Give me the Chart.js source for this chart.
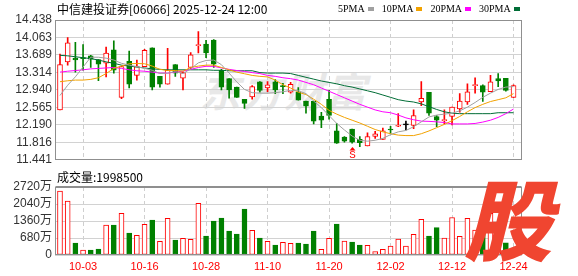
<!DOCTYPE html>
<html>
<head>
<meta charset="utf-8">
<script src="https://cdn.jsdelivr.net/npm/chart.js@4.4.1/dist/chart.umd.min.js"></script>
<style>
  html,body{margin:0;padding:0;background:#fff;}
  body{width:578px;height:276px;overflow:hidden;position:relative;font-family:"Noto Sans CJK SC","Liberation Sans",sans-serif;}
  .abs{position:absolute;white-space:nowrap;}
  #title{left:57px;top:1px;font-size:12px;line-height:15px;color:#000;}
  #legend{left:338px;top:2px;font-family:"Liberation Serif",serif;font-size:10px;line-height:13px;color:#000;}
  #legend span.sw{display:inline-block;width:6px;height:4px;margin:0 8px 0 3px;vertical-align:middle;position:relative;top:-1px;}
  #volTitle{left:57px;top:169px;font-size:12px;line-height:15px;color:#000;}
  #wm{left:200px;top:66px;font-size:40px;line-height:48px;font-weight:bold;font-style:italic;color:#e8e8e8;letter-spacing:2px;}
  #logo{left:464px;top:166px;font-size:88px;line-height:100px;font-weight:900;font-style:italic;color:#f04530;}
  canvas{position:absolute;left:0;}
</style>
</head>
<body>
<div id="wm" class="abs">东方财富</div>
<canvas id="k" width="578" height="170" style="top:0"></canvas>
<canvas id="v" width="578" height="106" style="top:170px"></canvas>
<div id="title" class="abs">中信建投证券[06066] 2025-12-24 12:00</div>
<div id="legend" class="abs"></div>
<div id="volTitle" class="abs"></div>
<div id="logo" class="abs">股</div>
<script>
// ---------- data ----------
const dates = ['09-29','09-30','10-02','10-03','10-06','10-08','10-09','10-10','10-13','10-14',
  '10-15','10-16','10-17','10-20','10-21','10-22','10-23','10-24','10-27','10-28',
  '10-30','10-31','11-03','11-04','11-05','11-06','11-07','11-10','11-11','11-12',
  '11-13','11-14','11-17','11-18','11-19','11-20','11-21','11-24','11-25','11-26',
  '11-27','11-28','12-01','12-02','12-03','12-04','12-05','12-08','12-09','12-10',
  '12-11','12-12','12-15','12-16','12-17','12-18','12-19','12-22','12-23','12-24'];
const openP = [12.51,13.54,13.62,13.63,13.67,13.59,13.51,13.80,12.78,13.55,
  13.25,13.44,13.84,13.23,13.06,13.48,13.19,13.42,13.89,13.92,
  14.01,13.36,13.18,13.00,12.74,12.79,13.11,12.98,13.11,13.03,
  12.89,12.89,12.70,12.70,12.38,12.74,12.06,11.93,12.10,11.88,
  11.74,11.94,11.88,12.10,12.16,12.19,12.18,12.68,12.89,12.37,
  12.28,12.37,12.53,12.68,13.03,13.03,12.90,13.18,13.19,12.78];
const highP = [13.71,14.06,13.96,13.91,13.68,13.59,13.86,13.99,13.45,13.77,
  13.58,13.81,13.84,13.23,13.83,13.48,13.32,13.74,14.19,14.00,
  14.02,13.38,13.18,13.00,12.74,13.03,13.12,13.12,13.16,13.08,
  13.10,12.99,12.70,12.70,12.46,12.93,12.22,11.94,12.10,11.94,
  12.02,12.05,12.12,12.16,12.43,12.27,12.51,13.12,12.89,12.39,
  12.51,12.57,12.86,13.07,13.20,13.05,13.25,13.29,13.19,13.05];
const lowP = [12.51,13.47,13.32,13.36,13.42,13.14,13.22,13.30,12.75,12.98,
  13.15,13.44,12.94,13.00,13.06,13.23,12.94,13.39,13.73,13.63,
  13.42,12.94,12.76,12.78,12.54,12.74,12.89,12.90,12.86,12.86,
  12.87,12.72,12.44,12.21,12.13,12.31,11.79,11.82,11.80,11.72,
  11.74,11.90,11.88,12.01,12.15,12.08,12.11,12.60,12.39,12.15,
  12.21,12.19,12.46,12.63,12.87,12.69,12.90,13.01,12.91,12.78];
const closeP = [13.48,13.95,13.58,13.61,13.60,13.49,13.73,13.36,13.44,13.06,
  13.44,13.79,13.00,13.06,13.36,13.30,13.31,13.69,13.91,13.73,
  13.49,13.00,12.94,12.78,12.65,13.01,12.93,13.05,12.94,13.01,
  13.06,12.72,12.59,12.27,12.29,12.39,11.80,11.84,11.82,11.81,
  11.94,12.00,12.06,12.08,12.18,12.19,12.39,12.76,12.44,12.29,
  12.30,12.57,12.70,12.90,13.05,12.89,13.11,13.13,12.93,13.03];
const volume = [2560,2160,480,200,200,240,1200,1200,1667,880,
  787,1227,1400,547,1467,600,667,627,2067,760,
  1360,1480,960,840,1840,987,680,547,400,507,
  467,480,440,960,227,667,1240,560,520,400,
  387,133,227,360,640,360,827,1427,760,1093,
  680,1500,747,1467,1000,933,1667,800,487,199.85];
const ma5 = [12.82,13.04,13.22,13.43,13.64,13.64,13.62,13.58,13.51,13.47,
  13.44,13.40,13.36,13.29,13.30,13.33,13.29,13.39,13.52,13.57,
  13.58,13.48,13.30,13.11,12.95,12.88,12.87,12.87,12.88,12.90,
  12.93,12.92,12.86,12.70,12.56,12.39,12.22,12.08,11.95,11.86,
  11.84,11.86,11.90,11.98,12.04,12.07,12.15,12.255,12.36,12.40,
  12.42,12.44,12.49,12.57,12.67,12.78,12.87,12.95,13.00,13.01];
const ma10 = [13.115,13.135,13.15,13.15,13.165,13.20,13.29,13.40,13.45,13.50,
  13.506,13.50,13.45,13.38,13.355,13.355,13.34,13.42,13.45,13.47,
  13.47,13.42,13.37,13.32,13.286,13.25,13.23,13.218,13.15,13.05,
  12.98,12.89,12.84,12.74,12.63,12.50,12.42,12.35,12.29,12.23,
  12.16,12.09,12.04,12.00,11.97,11.96,11.96,12.00,12.06,12.13,
  12.20,12.28,12.37,12.47,12.56,12.63,12.69,12.73,12.77,12.86];
const ma20 = [13.32,13.34,13.355,13.37,13.39,13.40,13.41,13.42,13.40,13.37,
  13.35,13.34,13.32,13.30,13.30,13.32,13.34,13.38,13.42,13.445,
  13.445,13.41,13.38,13.355,13.335,13.31,13.29,13.25,13.23,13.20,
  13.18,13.15,13.10,13.05,12.98,12.91,12.84,12.77,12.70,12.63,
  12.57,12.51,12.47,12.45,12.40,12.34,12.30,12.27,12.265,12.255,
  12.24,12.21,12.21,12.21,12.22,12.25,12.29,12.35,12.43,12.53];
const ma30 = [13.68,13.67,13.65,13.63,13.61,13.58,13.54,13.51,13.47,13.45,
  13.43,13.41,13.39,13.38,13.37,13.37,13.37,13.37,13.37,13.37,
  13.36,13.36,13.35,13.35,13.35,13.35,13.31,13.30,13.30,13.30,
  13.29,13.25,13.21,13.17,13.13,13.10,13.07,13.03,13.00,12.96,
  12.92,12.88,12.83,12.78,12.73,12.70,12.68,12.64,12.58,12.52,
  12.47,12.44,12.43,12.43,12.43,12.43,12.43,12.45,12.45,12.45];
const priceTicks = [11.441,11.816,12.190,12.565,12.940,13.314,13.689,14.063,14.438];
const volTicks = [0,680,1360,2040,2720];
const dateTicks = ['10-03','10-16','10-28','11-10','11-20','12-02','12-12','12-24'];
const sellMarks = ['11-25'];
const maNames = ['5PMA','10PMA','20PMA','30PMA'];
const lastVolume = 1998500;

// ---------- styles ----------
const RED = '#ff0000', GREEN = '#008000', BLACK = '#000000';
const maColors = ['#a0a0a0','#f2a200','#ff00ff','#006d36'];
const tickIdx = dateTicks.map(d => dates.indexOf(d));

document.getElementById('legend').innerHTML = maNames.map((n,i) =>
  n + '<span class="sw" style="background:' + maColors[i] + '"></span>').join('');
document.getElementById('volTitle').textContent = '成交量:' + lastVolume;

const candleColor = dates.map((d,i) => closeP[i] > openP[i] ? RED : (closeP[i] < openP[i] ? GREEN : BLACK));
const bodyFill = dates.map((d,i) => closeP[i] > openP[i] ? '#ffffff' : candleColor[i]);
const volColor = dates.map((d,i) => {
  const prev = i === 0 ? openP[0] : closeP[i-1];
  return closeP[i] >= prev ? RED : GREEN;
});
const volFill = volColor.map(c => c === RED ? '#ffffff' : c);

const framePlugin = (topWidth) => ({
  id: 'frame',
  afterDraw(chart) {
    const a = chart.chartArea, ctx = chart.ctx;
    const l = Math.round(a.left) + 0.5, t = Math.round(a.top) + 0.5;
    const r = Math.round(a.right) - 0.5, b = Math.round(a.bottom) - 0.5;
    ctx.save();
    ctx.strokeStyle = '#8f8f8f';
    ctx.lineWidth = 1;
    ctx.strokeRect(l, t, r - l, b - t);
    if (topWidth > 1) {
      ctx.beginPath();
      ctx.moveTo(l, t - 1); ctx.lineTo(r, t - 1);
      ctx.stroke();
    }
    ctx.restore();
  }
});

const sellPlugin = {
  id: 'sell',
  afterDatasetsDraw(chart) {
    const ctx = chart.ctx, xs = chart.scales.x, ys = chart.scales.y;
    ctx.save();
    sellMarks.forEach(d => {
      const i = dates.indexOf(d);
      const x = Math.round(xs.getPixelForValue(i));
      const y = ys.getPixelForValue(lowP[i]) + 4;
      ctx.fillStyle = RED;
      ctx.beginPath();
      ctx.moveTo(x + 0.5, y);
      ctx.lineTo(x + 3.5, y + 3.5);
      ctx.lineTo(x - 2.5, y + 3.5);
      ctx.closePath();
      ctx.fill();
      ctx.font = '11px "Liberation Mono", monospace';
      ctx.textAlign = 'center';
      ctx.textBaseline = 'top';
      ctx.fillText('S', x + 0.5, y + 3);
    });
    ctx.restore();
  }
};

const xCommon = (showLabels) => ({
  type: 'linear', min: -0.65, max: 60.1, offset: false,
  afterBuildTicks: ax => { ax.ticks = tickIdx.map(v => ({ value: v })); },
  ticks: {
    display: showLabels, autoSkip: false, maxRotation: 0, padding: 5,
    color: RED, font: { size: 11, family: 'Liberation Sans' },
    callback: v => dates[v]
  },
  grid: { color: '#cfcfcf', drawTicks: false, offset: false },
  border: { display: false, dash: [4, 3] },
  afterFit: ax => { ax.height = showLabels ? 21 : 0; }
});

Chart.defaults.animation = false;

new Chart(document.getElementById('k'), {
  data: {
    datasets: [
      ...maNames.map((n, k) => ({
        type: 'line', label: n, order: 0,
        data: [ma5, ma10, ma20, ma30][k].map((v, i) => ({ x: i, y: v })),
        borderColor: maColors[k], borderWidth: 1, pointRadius: 0, tension: 0
      })),
      {
        type: 'bar', label: 'body', order: 1, grouped: false,
        data: dates.map((d, i) => ({ x: i, y: [openP[i], closeP[i]] })),
        backgroundColor: bodyFill, borderColor: candleColor,
        borderWidth: 1, borderSkipped: false, barThickness: 5, minBarLength: 1
      },
      {
        type: 'bar', label: 'wick', order: 2, grouped: false,
        data: dates.map((d, i) => ({ x: i, y: [lowP[i], highP[i]] })),
        backgroundColor: candleColor, borderWidth: 0, barThickness: 1
      }
    ]
  },
  options: {
    responsive: false, devicePixelRatio: 1,
    layout: { padding: { left: 0, right: 56, top: 20, bottom: 4 } },
    plugins: { legend: { display: false }, tooltip: { enabled: false } },
    scales: {
      x: xCommon(false),
      y: {
        min: 11.441, max: 14.438,
        afterBuildTicks: ax => { ax.ticks = priceTicks.map(v => ({ value: v })); },
        ticks: { callback: v => v.toFixed(3), color: '#333', padding: 3, autoSkip: false,
          font: { size: 12, family: 'Liberation Sans' } },
        grid: { color: '#d2d2d2', drawTicks: false },
        border: { display: false },
        afterFit: ax => { ax.width = 55; }
      }
    }
  },
  plugins: [framePlugin(1), sellPlugin]
});

new Chart(document.getElementById('v'), {
  data: {
    datasets: [{
      type: 'bar', label: 'vol',
      data: volume.map((v, i) => ({ x: i, y: v })),
      backgroundColor: volFill, borderColor: volColor,
      borderWidth: 1, borderSkipped: false, barThickness: 5
    }]
  },
  options: {
    responsive: false, devicePixelRatio: 1,
    layout: { padding: { left: 0, right: 56, top: 17, bottom: 0 } },
    plugins: { legend: { display: false }, tooltip: { enabled: false } },
    scales: {
      x: xCommon(true),
      y: {
        min: 0, max: 2720,
        afterBuildTicks: ax => { ax.ticks = volTicks.map(v => ({ value: v })); },
        ticks: { callback: v => v === 0 ? '0' : v + '万', color: '#333', padding: 3, autoSkip: false,
          font: { size: 12, family: 'Liberation Sans, Noto Sans CJK SC' } },
        grid: { color: '#d2d2d2', drawTicks: false },
        border: { display: false },
        afterFit: ax => { ax.width = 55; }
      }
    }
  },
  plugins: [framePlugin(2)]
});
</script>
</body>
</html>
